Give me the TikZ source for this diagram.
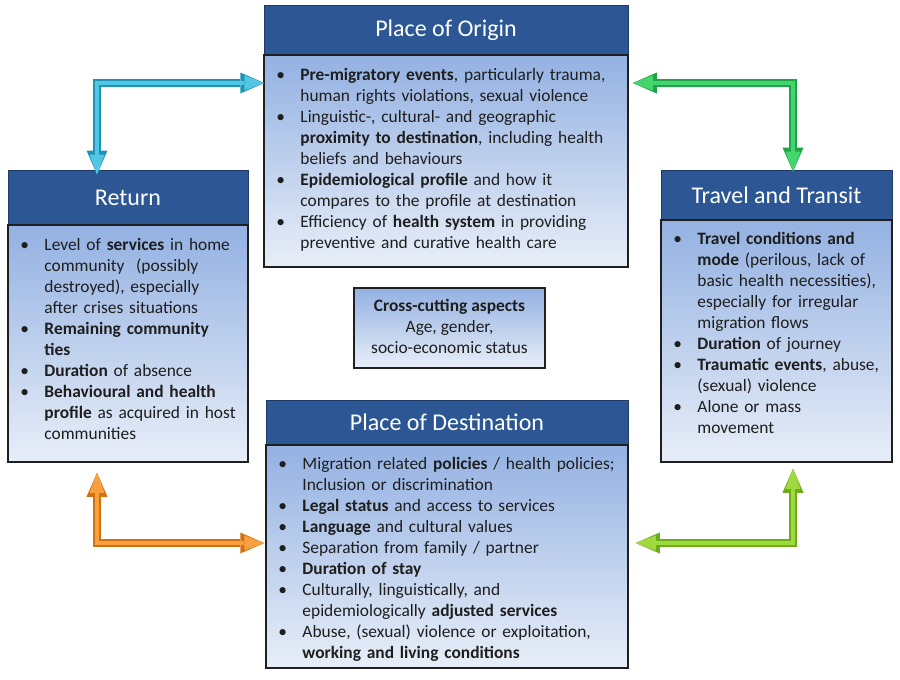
\documentclass[tikz,border=0pt]{standalone}
\usepackage{fontspec}
\setmainfont{Carlito}
\usetikzlibrary{arrows.meta}
\definecolor{hdr}{HTML}{2C5794}
\definecolor{hdredge}{HTML}{1D3B66}
\definecolor{bodytop}{HTML}{93B1E2}
\definecolor{bodybot}{HTML}{E8EEF8}
\definecolor{txtcol}{HTML}{1E1E1E}
\definecolor{cyanD}{HTML}{1E93B5}
\definecolor{cyanL}{HTML}{52C6E2}
\definecolor{grnD}{HTML}{1FA446}
\definecolor{grnL}{HTML}{45D56F}
\definecolor{orgD}{HTML}{D3700F}
\definecolor{orgL}{HTML}{F6A040}
\definecolor{limD}{HTML}{6BAE18}
\definecolor{limL}{HTML}{9FD93F}
\newcommand\bitem[1]{\par\hangindent=24pt\hangafter=1\noindent\strut\makebox[24pt][l]{\textbullet}#1\par}
\begin{document}
\begin{tikzpicture}[x=1pt,y=-1pt,
  hdrbox/.style={draw=hdredge, line width=1pt, fill=hdr, text=white,
    font=\fontsize{24}{28}\selectfont, inner sep=0pt},
  bodybox/.style={draw=black!88, line width=1.5pt, top color=bodytop,
    bottom color=bodybot, inner sep=0pt},
  txt/.style={anchor=north west, inner sep=0pt, text width=420pt, align=left,
    font=\fontsize{17.4}{21}\selectfont, text=txtcol},
  arrdark/.style={line width=7.5pt,
    {Triangle[length=24pt,width=21pt,line width=0pt]}-{Triangle[length=24pt,width=21pt,line width=0pt]}},
  arrlight/.style={line width=3.2pt,
    {Triangle[length=20pt,width=15pt,line width=0pt]}-{Triangle[length=20pt,width=15pt,line width=0pt]}}
]
\useasboundingbox[fill=white] (0,0) rectangle (900,680);

% Place of Origin
\node[hdrbox, minimum width=364pt, minimum height=50pt] (origH) at (446,30) {Place of Origin};
\node[bodybox, minimum width=364pt, minimum height=212pt] (origB) at (446,161) {};
\node[txt] (origT) at ([xshift=13pt,yshift=-5pt]origB.north west) {%
\bitem{\textbf{Pre-migratory events}, particularly trauma,\newline human rights violations, sexual violence}
\bitem{Linguistic-, cultural- and geographic\newline \textbf{proximity to destination}, including health\newline beliefs and behaviours}
\bitem{\textbf{Epidemiological profile} and how it\newline compares to the profile at destination}
\bitem{Efficiency of \textbf{health system} in providing\newline preventive and curative health care}};

% Return
\node[hdrbox, minimum width=240pt, minimum height=55pt] (retH) at (128,197.5) {Return};
\node[bodybox, minimum width=240pt, minimum height=237pt] (retB) at (128,343.5) {};
\node[txt] (retT) at ([xshift=13pt,yshift=-5pt]retB.north west) {%
\bitem{Level of \textbf{services} in home\newline community~ (possibly\newline destroyed), especially\newline after crises situations}
\bitem{\textbf{Remaining community\newline ties}}
\bitem{\textbf{Duration} of absence}
\bitem{\textbf{Behavioural and health\newline profile} as acquired in host\newline communities}};

% Travel and Transit
\node[hdrbox, minimum width=231pt, minimum height=50pt] (travH) at (776.5,195) {Travel and Transit};
\node[bodybox, minimum width=231pt, minimum height=242pt] (travB) at (776.5,341) {};
\node[txt] (travT) at ([xshift=13pt,yshift=-4.5pt]travB.north west) {%
\bitem{\textbf{Travel conditions and\newline mode} (perilous, lack of\newline basic health necessities),\newline especially for irregular\newline migration flows}
\bitem{\textbf{Duration} of journey}
\bitem{\textbf{Traumatic events}, abuse,\newline (sexual) violence}
\bitem{Alone or mass\newline movement}};

% Place of Destination
\node[hdrbox, minimum width=362pt, minimum height=45pt] (destH) at (447,422.5) {Place of Destination};
\node[bodybox, minimum width=362pt, minimum height=223pt] (destB) at (447,556.5) {};
\node[txt] (destT) at ([xshift=13pt,yshift=-4.5pt]destB.north west) {%
\bitem{Migration related \textbf{policies} / health policies;\newline Inclusion or discrimination}
\bitem{\textbf{Legal status} and access to services}
\bitem{\textbf{Language} and cultural values}
\bitem{Separation from family / partner}
\bitem{\textbf{Duration of stay}}
\bitem{Culturally, linguistically, and\newline epidemiologically \textbf{adjusted services}}
\bitem{Abuse, (sexual) violence or exploitation,\newline \textbf{working and living conditions}}};

% Cross-cutting
\node[bodybox, minimum width=191pt, minimum height=80pt] (crossB) at (449.5,328) {};
\node[inner sep=0pt, align=center, font=\fontsize{17.4}{21}\selectfont, text=txtcol] (crossT) at ([yshift=2pt]crossB.center)
  {\textbf{Cross-cutting aspects}\\Age, gender,\\socio-economic status};

% Arrows
\draw[arrdark, cyanD] ([xshift=-31pt,yshift=-5pt]retH.north) |- ([yshift=78pt,xshift=1pt]origB.west);
\draw[arrlight, cyanL] ([xshift=-31pt,yshift=-5pt]retH.north) |- ([yshift=78pt,xshift=1pt]origB.west);

\draw[arrdark, grnD] ([yshift=78pt,xshift=4pt]origB.east) -| ([xshift=16.5pt,yshift=-2pt]travH.north);
\draw[arrlight, grnL] ([yshift=78pt,xshift=4pt]origB.east) -| ([xshift=16.5pt,yshift=-2pt]travH.north);

\draw[arrdark, orgD] ([xshift=-31pt,yshift=-10pt]retB.south) |- ([yshift=13.5pt,xshift=-1pt]destB.west);
\draw[arrlight, orgL] ([xshift=-31pt,yshift=-10pt]retB.south) |- ([yshift=13.5pt,xshift=-1pt]destB.west);

\draw[arrdark, limD] ([xshift=16.5pt,yshift=-6pt]travB.south) |- ([yshift=13.5pt,xshift=7pt]destB.east);
\draw[arrlight, limL] ([xshift=16.5pt,yshift=-6pt]travB.south) |- ([yshift=13.5pt,xshift=7pt]destB.east);
\end{tikzpicture}
\end{document}
